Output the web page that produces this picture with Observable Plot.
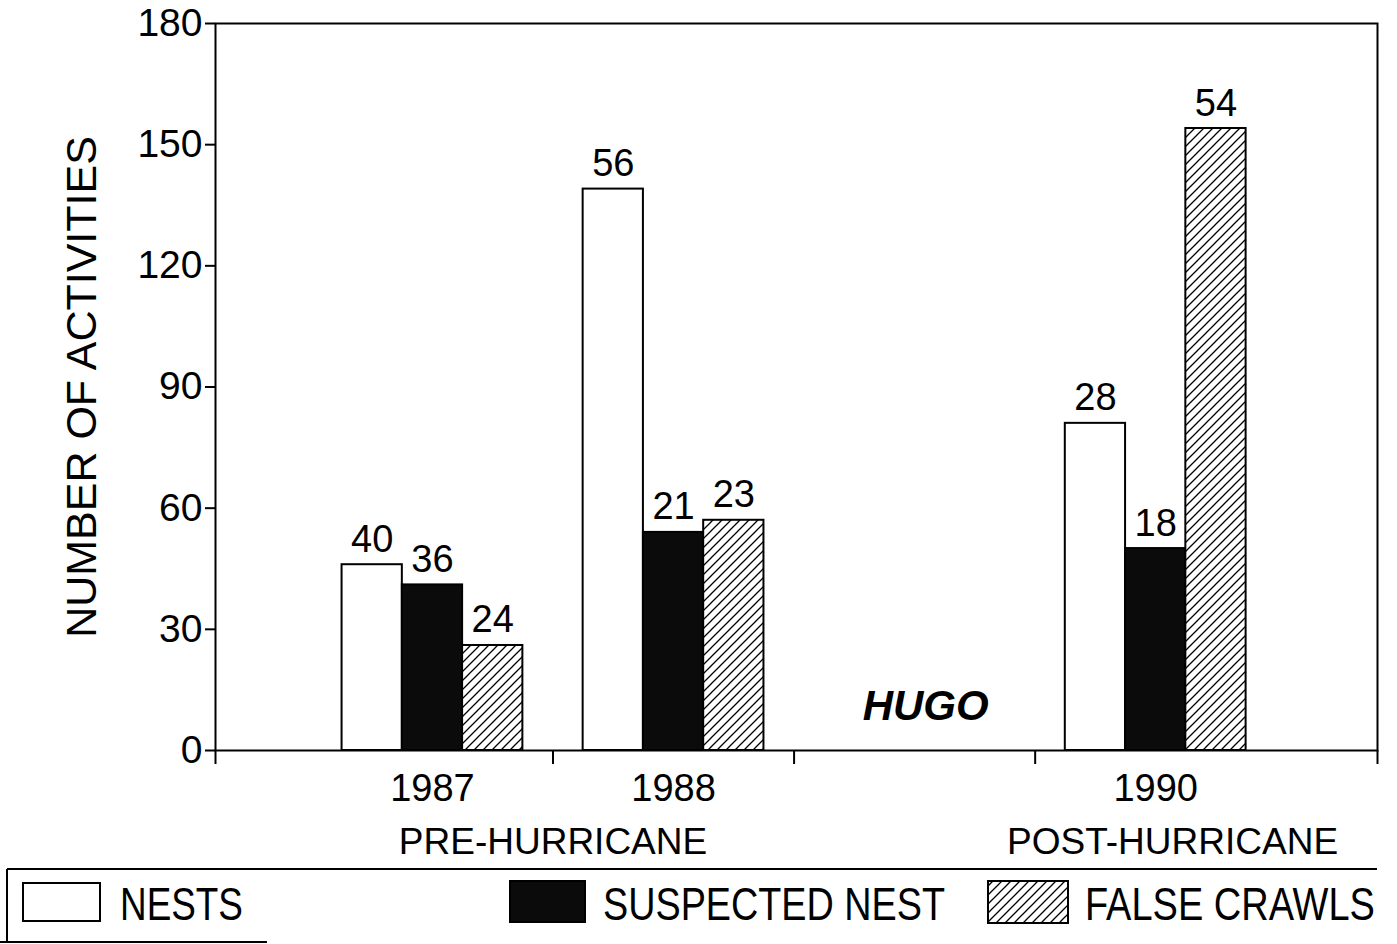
<!DOCTYPE html>
<html><head><meta charset="utf-8">
<script src="https://cdn.jsdelivr.net/npm/d3@7"></script>
<script src="https://cdn.jsdelivr.net/npm/@observablehq/plot@0.6"></script>
<style>
body{margin:0;background:#fff;font-family:"Liberation Sans",Arial,sans-serif;}
#wrap{position:relative;width:1397px;height:944px;overflow:hidden;}
#defs{position:absolute;width:0;height:0;}
svg{display:block;}
</style></head>
<body>
<svg id="defs" width="0" height="0">
  <defs>
    <pattern id="hatch" patternUnits="userSpaceOnUse" width="9" height="9">
      <rect width="9" height="9" fill="white"/>
      <path d="M-2,2 L2,-2 M0,9 L9,0 M7,11 L11,7" stroke="black" stroke-width="1.3"/>
    </pattern>
  </defs>
</svg>
<div id="wrap"><div id="chart"></div><div id="legend"></div></div>
<script>
// ---- data ----
const years = [1987, 1988, 1990];
const categories = ["NESTS", "SUSPECTED NEST", "FALSE CRAWLS"];
const nests = [46, 139, 81];
const suspectedNests = [41, 54, 50];
const falseCrawls = [26, 57, 154];
const nestsPct = [40, 56, 28];
const suspectedPct = [36, 21, 18];
const falseCrawlsPct = [24, 23, 54];
const yTicks = [0, 30, 60, 90, 120, 150, 180];
const xBoundaries = [1987.5, 1988.5, 1989.5];
const xDomain = [1986.1, 1990.92];
const periodLabels = ["PRE-HURRICANE", "POST-HURRICANE"];
const periodYears = [1987.5, 1990.07];
const eventLabel = "HUGO";
const eventYear = 1989;
const eventLevel = 11;
const yLabel = "NUMBER OF ACTIVITIES";

const seriesValues = [nests, suspectedNests, falseCrawls];
const seriesPct = [nestsPct, suspectedPct, falseCrawlsPct];
const fills = ["white", "#0b0b0b", "url(#hatch)"];
const barW = 0.25;

const rows = years.flatMap((yr, i) => categories.map((c, j) => ({
  year: yr, category: c, index: j,
  value: seriesValues[j][i], pct: seriesPct[j][i],
  x1: yr - 1.5 * barW + j * barW, x2: yr - 0.5 * barW + j * barW,
  xc: yr - barW + j * barW
})));

const font = "Liberation Sans, Arial, sans-serif";

const barMarks = categories.map((c, j) =>
  Plot.rect(rows.filter(d => d.index === j), {
    x1: "x1", x2: "x2", y1: 0, y2: "value",
    fill: fills[j], stroke: "black", strokeWidth: 2
  })
);

const chart = Plot.plot({
  width: 1397, height: 866,
  marginLeft: 215, marginRight: 20, marginTop: 23, marginBottom: 116,
  style: {fontFamily: font, fontSize: "38px", color: "black", background: "white", overflow: "visible"},
  x: {type: "linear", domain: xDomain, axis: null},
  y: {domain: [0, 180], axis: null},
  marks: [
    ...barMarks,
    Plot.frame({stroke: "black", strokeWidth: 2}),
    Plot.axisY({ticks: yTicks, tickSize: 10, tickPadding: 3, tickFormat: d => String(d), label: null, strokeWidth: 2, fontSize: 39}),
    Plot.axisX({ticks: [xDomain[0], ...xBoundaries, xDomain[1]], tickSize: 14, tickFormat: () => "", label: null, strokeWidth: 2}),
    Plot.text(rows, {x: "xc", y: "value", text: d => String(d.pct), lineAnchor: "bottom", dy: -13, fontSize: 38}),
    Plot.text(years, {x: d => d, text: d => String(d), frameAnchor: "bottom", lineAnchor: "middle", dy: 38, fontSize: 38}),
    Plot.text(periodLabels, {x: (d, i) => periodYears[i], text: d => d, frameAnchor: "bottom", lineAnchor: "middle", dy: 92, fontSize: 37}),
    Plot.text([eventLabel], {x: eventYear, y: eventLevel, text: d => d, dx: 11, lineAnchor: "middle", fontSize: 42, fontWeight: "bold", fontStyle: "italic"}),
    Plot.text([yLabel], {frameAnchor: "left", text: d => d, rotate: -90, dx: -133, textAnchor: "middle", lineAnchor: "middle", fontSize: 43})
  ]
});
document.getElementById("chart").appendChild(chart);

// ---- legend (below the chart svg) ----
const legendItems = [
  {label: categories[0], fill: fills[0], sx: 23, sy: 17, sw: 77, sh: 38, tx: 120, tw: 123},
  {label: categories[1], fill: fills[1], sx: 510, sy: 15, sw: 75, sh: 41, tx: 603, tw: 342},
  {label: categories[2], fill: fills[2], sx: 988, sy: 15, sw: 80, sh: 42, tx: 1085, tw: 290}
];
const lg = d3.select("#legend").append("svg").attr("width", 1397).attr("height", 78);
lg.append("path").attr("d", "M7,3 H1377 M7,3 V76 M0,76 H267").attr("stroke", "black").attr("stroke-width", 2).attr("fill", "none");
const it = lg.selectAll("g").data(legendItems).join("g");
it.append("rect").attr("x", d => d.sx).attr("y", d => d.sy).attr("width", d => d.sw).attr("height", d => d.sh)
  .attr("fill", d => d.fill).attr("stroke", "black").attr("stroke-width", 2);
it.append("text").text(d => d.label)
  .attr("font-family", "Liberation Sans Narrow, Liberation Sans, Arial, sans-serif").attr("font-size", 46)
  .attr("fill", "black")
  .attr("transform", function(d) {
    const w = this.getComputedTextLength() || d.tw;
    return `translate(${d.tx},54) scale(${d.tw / w},1)`;
  });
</script>
</body></html>
